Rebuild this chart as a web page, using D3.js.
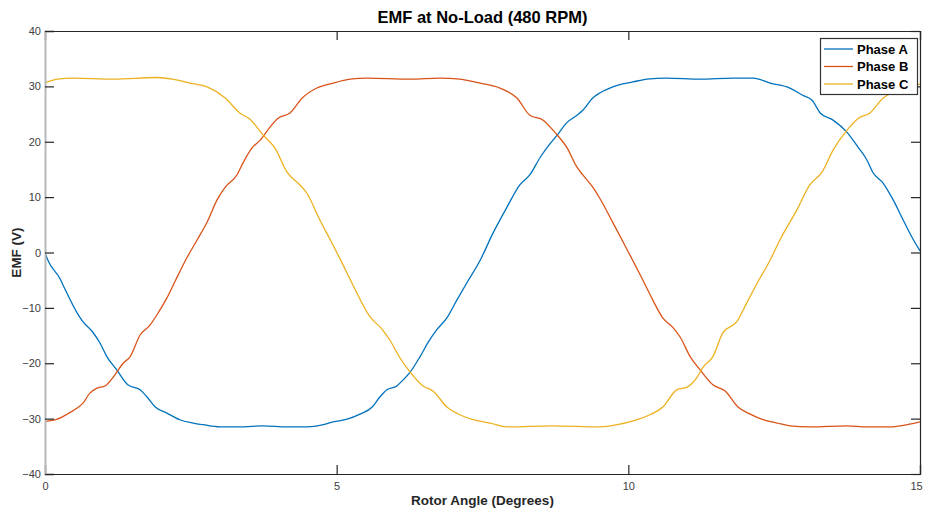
<!DOCTYPE html>
<html>
<head>
<meta charset="utf-8">
<script src="https://cdn.jsdelivr.net/npm/d3@7"></script>
<style>
  html, body { margin: 0; padding: 0; background: #fff; }
  svg { display: block; font-family: "Liberation Sans", Arial, Helvetica, sans-serif; }
</style>
</head>
<body>
<svg id="chart" width="925" height="515"></svg>
<script>
// Rotor angle (degrees) and EMF (V) samples for each phase
const phaseA_x = [0, 0.05, 0.26, 0.31, 0.55, 0.65, 0.82, 0.94, 1.06, 1.23, 1.42, 1.63, 1.75, 1.89, 2.09, 2.31, 2.54, 2.71, 3.0, 3.34, 3.74, 4.15, 4.49, 4.77, 4.94, 5.18, 5.4, 5.61, 5.74, 5.86, 6.03, 6.14, 6.26, 6.43, 6.57, 6.72, 6.89, 7.06, 7.23, 7.46, 7.68, 7.92, 8.14, 8.31, 8.49, 8.61, 8.78, 8.95, 9.12, 9.22, 9.39, 9.51, 9.81, 10.08, 10.32, 10.66, 11.23, 11.79, 12.14, 12.43, 12.77, 12.99, 13.15, 13.29, 13.51, 13.75, 13.94, 14.09, 14.19, 14.37, 14.54, 14.71, 14.86, 15.0];
const phaseA_y = [0, -1.4, -4.8, -5.9, -10.9, -12.5, -14.4, -16.3, -18.8, -21.2, -23.9, -24.8, -26.1, -27.9, -29.0, -30.2, -30.8, -31.1, -31.5, -31.5, -31.3, -31.5, -31.5, -31.1, -30.6, -30.1, -29.2, -27.9, -26.1, -24.8, -24.1, -23.0, -21.6, -18.8, -16.2, -13.9, -11.8, -8.6, -5.5, -1.4, 3.5, 8.2, 12.2, 14.0, 17.2, 19.0, 21.2, 23.5, 24.8, 25.7, 27.9, 28.8, 30.2, 30.8, 31.3, 31.5, 31.3, 31.5, 31.5, 30.6, 29.7, 28.4, 27.5, 25.2, 23.9, 21.7, 19.0, 16.7, 14.5, 12.5, 9.5, 5.9, 2.8, 0.3];

const phaseB_x = [0, 0.21, 0.38, 0.55, 0.65, 0.77, 0.89, 1.03, 1.17, 1.34, 1.46, 1.63, 1.8, 1.94, 2.09, 2.23, 2.43, 2.61, 2.78, 2.95, 3.09, 3.29, 3.39, 3.55, 3.69, 3.86, 3.99, 4.2, 4.41, 4.66, 4.94, 5.23, 5.52, 6.26, 6.77, 7.11, 7.46, 7.8, 8.09, 8.31, 8.54, 8.74, 8.95, 9.12, 9.22, 9.39, 9.51, 9.74, 9.98, 10.25, 10.42, 10.59, 10.77, 10.89, 11.06, 11.23, 11.45, 11.66, 11.88, 12.09, 12.31, 12.55, 12.77, 13.11, 13.75, 14.09, 14.49, 14.78, 15.0];
const phaseB_y = [-30.5, -30.1, -29.2, -28.1, -27.2, -25.4, -24.5, -24.1, -22.5, -20.0, -18.8, -14.9, -13.1, -10.9, -8.2, -5.2, -1.0, 2.3, 5.5, 9.5, 11.8, 14.0, 16.1, 18.9, 20.3, 22.7, 24.2, 25.2, 27.9, 29.7, 30.6, 31.3, 31.5, 31.3, 31.5, 31.3, 30.6, 29.7, 27.9, 24.8, 23.9, 21.7, 18.9, 15.4, 14.0, 11.8, 9.8, 5.3, 0.5, -5.0, -8.6, -11.8, -13.6, -15.3, -18.8, -21.2, -23.9, -25.0, -27.9, -29.2, -30.2, -30.8, -31.3, -31.5, -31.3, -31.5, -31.5, -31.1, -30.6];

const phaseC_x = [0, 0.21, 0.48, 1.17, 1.92, 2.19, 2.49, 2.78, 3.09, 3.34, 3.51, 3.74, 3.94, 4.15, 4.37, 4.49, 4.71, 4.89, 5.06, 5.28, 5.57, 5.79, 5.91, 6.09, 6.26, 6.48, 6.65, 6.89, 7.11, 7.34, 7.63, 7.92, 8.71, 9.51, 9.81, 10.08, 10.37, 10.59, 10.83, 11.01, 11.18, 11.28, 11.45, 11.62, 11.86, 12.03, 12.21, 12.43, 12.6, 12.89, 13.11, 13.32, 13.51, 13.75, 13.94, 14.14, 14.37, 14.54, 14.78, 15.0];
const phaseC_y = [30.6, 31.3, 31.5, 31.3, 31.6, 31.3, 30.6, 29.9, 27.9, 25.2, 24.1, 21.2, 18.9, 14.5, 12.2, 10.7, 5.9, 2.3, -1.2, -5.9, -11.6, -14.0, -15.8, -19.1, -21.6, -24.1, -25.0, -27.9, -29.3, -30.2, -30.8, -31.5, -31.3, -31.5, -31.1, -30.4, -29.3, -27.9, -24.8, -24.3, -22.5, -20.7, -18.8, -14.5, -12.5, -9.1, -5.5, -1.4, 2.3, 7.7, 12.2, 14.5, 18.5, 22.1, 24.2, 25.2, 27.9, 29.0, 29.9, 30.4];

const seriesNames = ["Phase A", "Phase B", "Phase C"];
const seriesColors = ["#0072BD", "#D95319", "#EDB120"];
const xTicks = [0, 5, 10, 15];
const yTicks = [-40, -30, -20, -10, 0, 10, 20, 30, 40];

const titleText = "EMF at No-Load (480 RPM)";
const xLabelText = "Rotor Angle (Degrees)";
const yLabelText = "EMF (V)";

const series = [
  { name: seriesNames[0], color: seriesColors[0], pts: phaseA_x.map((v, i) => [v, phaseA_y[i]]) },
  { name: seriesNames[1], color: seriesColors[1], pts: phaseB_x.map((v, i) => [v, phaseB_y[i]]) },
  { name: seriesNames[2], color: seriesColors[2], pts: phaseC_x.map((v, i) => [v, phaseC_y[i]]) }
];

const svg = d3.select("#chart");
const plotL = 45, plotR = 920, plotT = 31, plotB = 474;

const xScale = d3.scaleLinear().domain([0, 15]).range([plotL, plotR]);
const yScale = d3.scaleLinear().domain([-40, 40]).range([plotB, plotT]);

const axisColor = "#262626";
const tickLen = 9;

// plotted curves, clipped to the axes box
svg.append("clipPath").attr("id", "plotclip")
  .append("rect").attr("x", plotL).attr("y", plotT).attr("width", plotR - plotL).attr("height", plotB - plotT);

const line = d3.line().x(d => xScale(d[0])).y(d => yScale(d[1])).curve(d3.curveMonotoneX);

svg.append("g").attr("clip-path", "url(#plotclip)")
  .selectAll("path").data(series).join("path")
  .attr("d", d => line(d.pts))
  .attr("fill", "none")
  .attr("stroke", d => d.color)
  .attr("stroke-width", 1.3);

// axes: bottom and left carry labels, top and right mirror the ticks
const bottomAxis = d3.axisBottom(xScale).tickValues(xTicks).tickSize(-tickLen).tickPadding(8).tickFormat(d3.format("d"));
const leftAxis = d3.axisLeft(yScale).tickValues(yTicks).tickSize(-tickLen).tickPadding(13).tickFormat(d3.format("d"));
const topAxis = d3.axisTop(xScale).tickValues(xTicks).tickSize(-tickLen).tickFormat("");
const rightAxis = d3.axisRight(yScale).tickValues(yTicks).tickSize(-tickLen).tickFormat("");

function styleAxis(g) {
  g.select(".domain").attr("stroke", axisColor).attr("stroke-width", 1.2);
  g.selectAll(".tick line").attr("stroke", axisColor).attr("stroke-width", 1.2);
  g.selectAll(".tick text").attr("fill", "#404040").attr("font-size", 11)
    .attr("font-family", "'Liberation Sans', Arial, sans-serif");
}

const gb = svg.append("g").attr("transform", `translate(0,${plotB})`).call(bottomAxis).call(styleAxis);
// keep the last x label inside the page edge
gb.selectAll(".tick text").filter(d => d === 15).attr("dx", -4);
svg.append("g").attr("transform", `translate(0,${plotT})`).call(topAxis).call(styleAxis);
svg.append("g").attr("transform", `translate(${plotR},0)`).call(rightAxis).call(styleAxis);
const gl = svg.append("g").attr("transform", `translate(${plotL},0)`).call(leftAxis).call(styleAxis);
gl.select(".domain").attr("stroke", "#b8b8b8").attr("stroke-width", 2);
gl.selectAll(".tick text").attr("x", -4);

// title and axis labels
svg.append("text").attr("x", (plotL + plotR) / 2).attr("y", 23)
  .attr("text-anchor", "middle").attr("font-weight", "bold").attr("font-size", 16.5)
  .attr("fill", "#000").text(titleText);

svg.append("text").attr("x", (plotL + plotR) / 2).attr("y", 505)
  .attr("text-anchor", "middle").attr("font-weight", "bold").attr("font-size", 13.5)
  .attr("fill", "#262626").text(xLabelText);

svg.append("text").attr("transform", `translate(21,${(plotT + plotB) / 2}) rotate(-90)`)
  .attr("text-anchor", "middle").attr("font-weight", "bold").attr("font-size", 13.5)
  .attr("fill", "#262626").text(yLabelText);

// legend
const lg = svg.append("g");
lg.append("rect").attr("x", 820.5).attr("y", 38.5).attr("width", 97).attr("height", 56)
  .attr("fill", "#fff").attr("stroke", "#333").attr("stroke-width", 1.2);
const rowY = [49, 66.5, 84];
series.forEach((s, i) => {
  lg.append("line").attr("x1", 824).attr("x2", 853).attr("y1", rowY[i]).attr("y2", rowY[i])
    .attr("stroke", s.color).attr("stroke-width", 1.3);
  lg.append("text").attr("x", 857).attr("y", rowY[i] + 4.5)
    .attr("font-weight", "bold").attr("font-size", 13).attr("fill", "#000").text(s.name);
});
</script>
</body>
</html>
